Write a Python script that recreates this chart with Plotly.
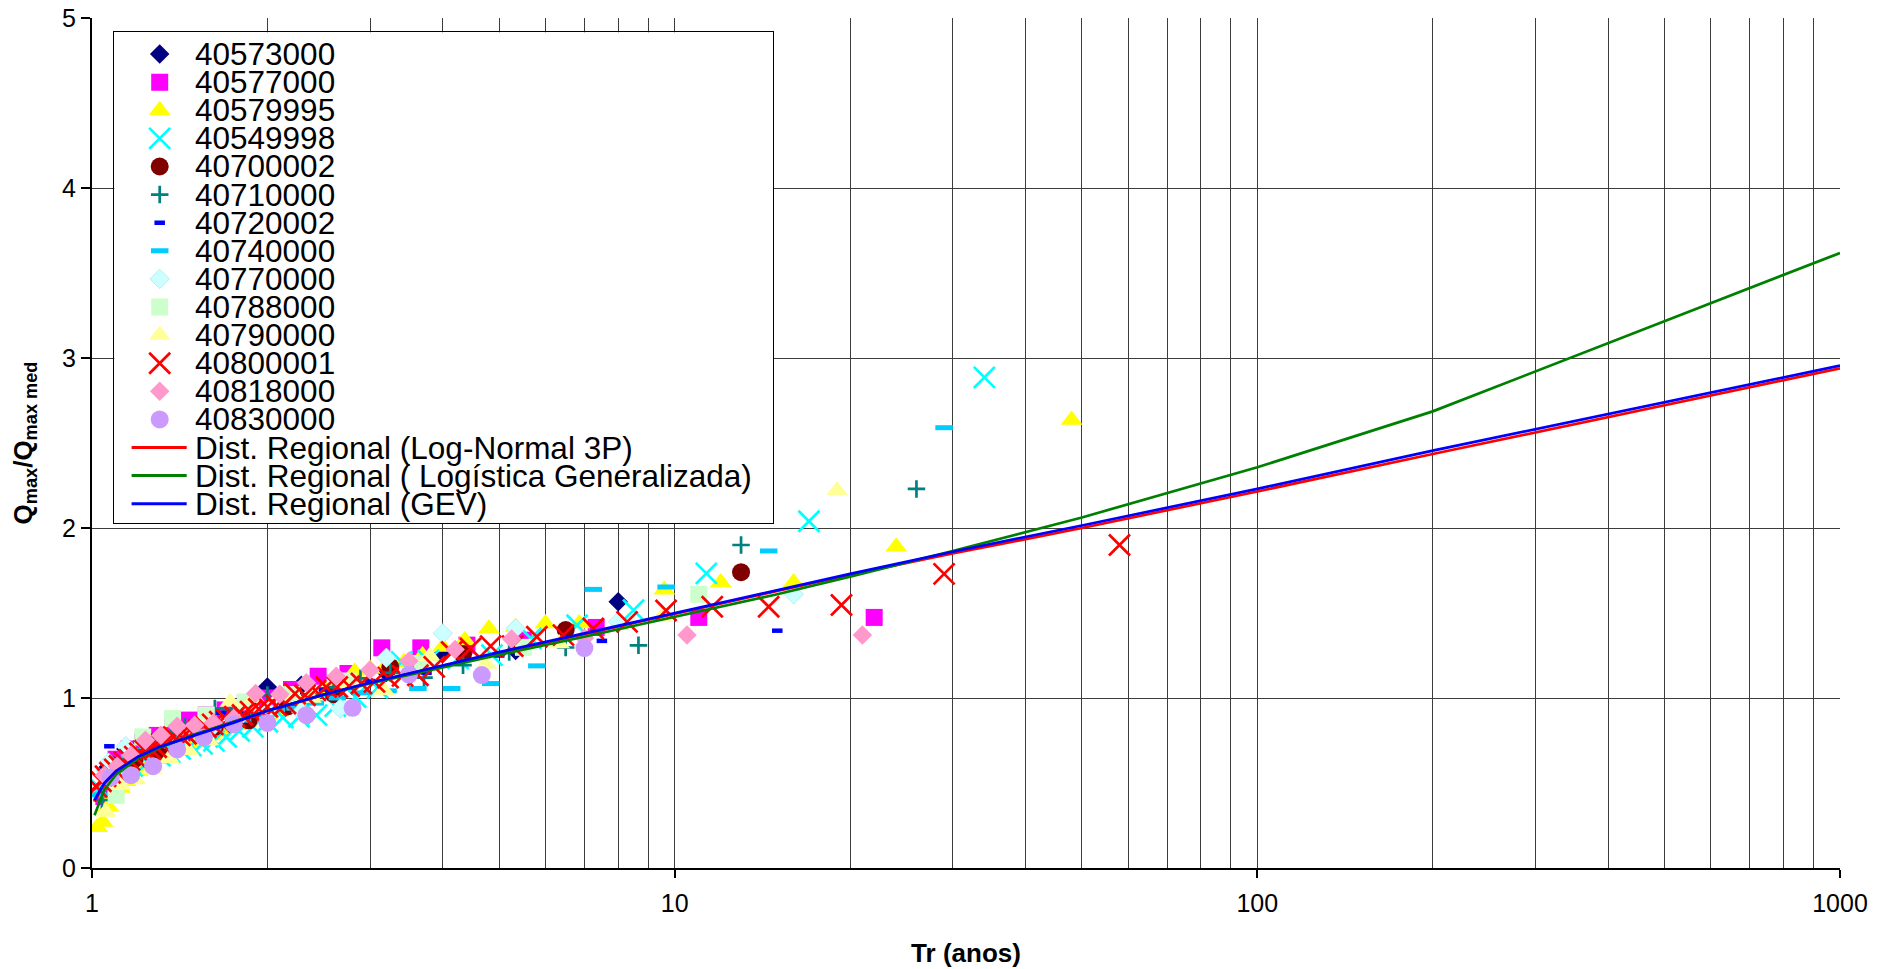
import plotly.graph_objects as go

FONT = "Liberation Sans, Arial, Helvetica, sans-serif"
GRID = "#3c3c3c"

# ---------------------------------------------------------------------------
# Observed annual maxima per gauging station:
# return period Tr (years) and dimensionless flood Qmax / Qmax med
# ---------------------------------------------------------------------------
tr_40573000 = [8.0, 5.333, 4.0, 3.2, 2.667, 2.286, 2.0, 1.778, 1.6, 1.455, 1.333, 1.231, 1.143, 1.067]
q_40573000 = [1.566, 1.28, 1.262, 1.15, 1.10, 1.075, 1.065, 0.90, 0.85, 0.79, 0.76, 0.73, 0.70, 0.594]

tr_40577000 = [22.0, 11.0, 7.333, 5.5, 4.4, 3.667, 3.143, 2.75, 2.444, 2.2, 2.0, 1.833, 1.692, 1.571,
               1.467, 1.375, 1.294, 1.222, 1.158, 1.1, 1.048]
q_40577000 = [1.474, 1.474, 1.415, 1.34, 1.311, 1.295, 1.295, 1.144, 1.128, 1.05, 1.00, 0.97, 0.93, 0.90,
              0.87, 0.83, 0.78, 0.74, 0.70, 0.64, 0.42]

tr_40579995 = [48.0, 24.0, 16.0, 12.0, 9.6, 8.0, 6.857, 6.0, 5.333, 4.8, 4.364, 4.0, 3.692, 3.429, 3.2,
               3.0, 2.824, 2.667, 2.526, 2.4, 2.286, 2.182, 2.087, 2.0, 1.92, 1.846, 1.778, 1.714, 1.655,
               1.6, 1.548, 1.5, 1.455, 1.412, 1.371, 1.333, 1.297, 1.263, 1.231, 1.2, 1.171, 1.143, 1.116,
               1.091, 1.067, 1.043, 1.021]
q_40579995 = [2.635, 1.89, 1.68, 1.68, 1.637, 1.428, 1.438, 1.438, 1.418, 1.409, 1.34, 1.30, 1.25, 1.21, 1.19,
              1.17, 1.154, 1.10, 1.04, 0.99, 0.96, 0.94, 0.92, 0.90, 0.88, 0.86, 0.84, 0.82, 0.80,
              0.78, 0.76, 0.74, 0.72, 0.70, 0.68, 0.66, 0.64, 0.62, 0.60, 0.57, 0.54, 0.51, 0.47,
              0.43, 0.36, 0.27, 0.24]

tr_40549998 = [34.0, 17.0, 11.333, 8.5, 6.8, 5.667, 4.857, 4.25, 3.778, 3.4, 3.091, 2.833, 2.615, 2.429,
               2.267, 2.125, 2.0, 1.889, 1.789, 1.7, 1.619, 1.545, 1.478, 1.417, 1.36, 1.308, 1.259, 1.214,
               1.172, 1.133, 1.097, 1.063, 1.03]
q_40549998 = [2.886, 2.04, 1.733, 1.517, 1.428, 1.35, 1.252, 1.232, 1.22, 1.212, 1.06, 1.006, 0.952, 0.899,
              0.89, 0.885, 0.86, 0.83, 0.806, 0.771, 0.748, 0.73, 0.72, 0.70, 0.68, 0.66, 0.64, 0.62,
              0.60, 0.58, 0.55, 0.52, 0.47]

tr_40700002 = [13.0, 6.5, 4.333, 3.25, 2.6, 2.167, 1.857, 1.625, 1.444, 1.3, 1.182, 1.083]
q_40700002 = [1.74, 1.40, 1.257, 1.183, 1.022, 0.95, 0.869, 0.83, 0.79, 0.683, 0.64, 0.604]

tr_40710000 = [26.0, 13.0, 8.667, 6.5, 5.2, 4.333, 3.714, 3.25, 2.889, 2.6, 2.364, 2.167, 2.0, 1.857,
               1.733, 1.625, 1.529, 1.444, 1.368, 1.3, 1.238, 1.182, 1.13, 1.083, 1.04]
q_40710000 = [2.23, 1.90, 1.31, 1.297, 1.27, 1.193, 1.12, 1.148, 1.115, 1.062, 1.02, 0.99, 1.017, 0.96,
              0.93, 0.938, 0.86, 0.83, 0.80, 0.77, 0.74, 0.70, 0.62, 0.47, 0.40]

tr_40720002 = [15.0, 7.5, 5.0, 3.75, 3.0, 2.5, 2.143, 1.875, 1.667, 1.5, 1.364, 1.25, 1.154, 1.071]
q_40720002 = [1.396, 1.336, 1.25, 1.148, 1.10, 1.05, 1.0, 0.96, 0.912, 0.83, 0.78, 0.73, 0.69, 0.716]

tr_40740000 = [29.0, 14.5, 9.667, 7.25, 5.8, 4.833, 4.143, 3.625, 3.222, 2.9, 2.636, 2.417, 2.231, 2.071,
               1.933, 1.813, 1.706, 1.611, 1.526, 1.45, 1.381, 1.318, 1.261, 1.208, 1.16, 1.115, 1.074, 1.036]
q_40740000 = [2.59, 1.865, 1.653, 1.639, 1.189, 1.085, 1.056, 1.056, 1.042, 1.03, 1.0, 0.97, 0.94, 0.93,
              0.90, 0.87, 0.85, 0.82, 0.80, 0.78, 0.76, 0.74, 0.71, 0.69, 0.66, 0.62, 0.55, 0.43]

tr_40770000 = [16.0, 8.0, 5.333, 4.0, 3.2, 2.667, 2.286, 2.0, 1.778, 1.6, 1.455, 1.333, 1.231, 1.143, 1.067]
q_40770000 = [1.61, 1.448, 1.409, 1.38, 1.237, 0.938, 0.918, 0.93, 0.88, 0.82, 0.78, 0.76, 0.74, 0.716, 0.62]

tr_40788000 = [11.0, 5.5, 3.667, 2.75, 2.2, 1.833, 1.571, 1.375, 1.222, 1.1]
q_40788000 = [1.61, 1.298, 1.203, 1.10, 1.02, 0.977, 0.90, 0.879, 0.771, 0.428]

tr_40790000 = [19.0, 9.5, 6.333, 4.75, 3.8, 3.167, 2.714, 2.375, 2.111, 1.9, 1.727, 1.583, 1.462, 1.357,
               1.267, 1.188, 1.118, 1.056]
q_40790000 = [2.22, 1.477, 1.32, 1.20, 1.246, 1.046, 1.08, 1.0, 1.02, 1.0, 0.977, 0.75, 0.693, 0.644,
              0.58, 0.52, 0.487, 0.33]

tr_40800001 = [58.0, 29.0, 19.333, 14.5, 11.6, 9.667, 8.286, 7.25, 6.444, 5.8, 5.273, 4.833, 4.462, 4.143,
               3.867, 3.625, 3.412, 3.222, 3.053, 2.9, 2.762, 2.636, 2.522, 2.417, 2.32, 2.231, 2.148,
               2.071, 2.0, 1.933, 1.871, 1.813, 1.758, 1.706, 1.657, 1.611, 1.568, 1.526, 1.487, 1.45,
               1.415, 1.381, 1.349, 1.318, 1.289, 1.261, 1.234, 1.208, 1.184, 1.16, 1.137, 1.115, 1.094,
               1.074, 1.055, 1.036, 1.018]
q_40800001 = [1.90, 1.73, 1.547, 1.537, 1.537, 1.515, 1.448, 1.409, 1.37, 1.36, 1.305, 1.305, 1.291, 1.271,
              1.183, 1.134, 1.13, 1.12, 1.095, 1.085, 1.07, 1.065, 1.065, 1.045, 1.016, 1.026, 0.968,
              0.955, 0.948, 0.935, 0.92, 0.90, 0.89, 0.87, 0.86, 0.845, 0.828, 0.81, 0.795, 0.79,
              0.78, 0.77, 0.755, 0.73, 0.71, 0.70, 0.69, 0.675, 0.655, 0.635, 0.62, 0.60, 0.58,
              0.56, 0.54, 0.51, 0.477]

tr_40818000 = [21.0, 10.5, 7.0, 5.25, 4.2, 3.5, 3.0, 2.625, 2.333, 2.1, 1.909, 1.75, 1.615, 1.5, 1.4,
               1.313, 1.235, 1.167, 1.105, 1.05]
q_40818000 = [1.37, 1.37, 1.353, 1.347, 1.285, 1.217, 1.164, 1.128, 1.089, 1.022, 1.026, 0.88, 0.853, 0.84,
              0.834, 0.781, 0.752, 0.663, 0.599, 0.546]

tr_40830000 = [7.0, 4.667, 3.5, 2.8, 2.333, 2.0, 1.75, 1.556, 1.4, 1.273, 1.167, 1.077]
q_40830000 = [1.294, 1.135, 1.138, 0.942, 0.899, 0.853, 0.846, 0.768, 0.697, 0.599, 0.546, 0.532]

# Regional frequency curves
tr_curve = [1.01, 1.05, 1.1, 1.2, 1.3, 1.5, 1.75, 2, 2.5, 3, 4, 5, 7, 10, 15, 20, 30, 50, 100, 200, 1000]
q_ln3 = [0.39, 0.495, 0.57, 0.655, 0.71, 0.785, 0.86, 0.925, 1.02, 1.09, 1.19, 1.265, 1.375, 1.495, 1.63,
         1.725, 1.85, 2.0, 2.215, 2.435, 2.939]
q_glo = [0.31, 0.46, 0.55, 0.645, 0.705, 0.785, 0.86, 0.925, 1.02, 1.085, 1.18, 1.255, 1.36, 1.478, 1.61,
         1.714, 1.865, 2.062, 2.357, 2.686, 3.618]
q_gev = [0.40, 0.50, 0.57, 0.655, 0.71, 0.78, 0.855, 0.925, 1.02, 1.09, 1.19, 1.27, 1.38, 1.50, 1.635,
         1.73, 1.86, 2.015, 2.23, 2.455, 2.955]

x_tickvals = [1, 10, 100, 1000]
x_ticktext = ["1", "10", "100", "1000"]
x_minorvals = [2, 3, 4, 5, 6, 7, 8, 9, 20, 30, 40, 50, 60, 70, 80, 90,
               200, 300, 400, 500, 600, 700, 800, 900]

stations = [
    ("40573000", tr_40573000, q_40573000),
    ("40577000", tr_40577000, q_40577000),
    ("40579995", tr_40579995, q_40579995),
    ("40549998", tr_40549998, q_40549998),
    ("40700002", tr_40700002, q_40700002),
    ("40710000", tr_40710000, q_40710000),
    ("40720002", tr_40720002, q_40720002),
    ("40740000", tr_40740000, q_40740000),
    ("40770000", tr_40770000, q_40770000),
    ("40788000", tr_40788000, q_40788000),
    ("40790000", tr_40790000, q_40790000),
    ("40800001", tr_40800001, q_40800001),
    ("40818000", tr_40818000, q_40818000),
    ("40830000", tr_40830000, q_40830000),
]

curves = [
    ("Dist. Regional (Log-Normal 3P)", q_ln3, "#FF0000"),
    ("Dist. Regional ( Logística Generalizada)", q_glo, "#008000"),
    ("Dist. Regional (GEV)", q_gev, "#0000FF"),
]

# marker look of every station
STYLE = {
    "40573000": dict(symbol="diamond", color="#000080", size=15, lw=0, lc="#000080"),
    "40577000": dict(symbol="square", color="#FF00FF", size=17, lw=0, lc="#FF00FF"),
    "40579995": dict(symbol="triangle-up", color="#FFFF00", size=19, lw=0, lc="#FFFF00"),
    "40549998": dict(symbol="x-thin", color="#00FFFF", size=21, lw=2.7, lc="#00FFFF"),
    "40700002": dict(symbol="circle", color="#800000", size=18, lw=0, lc="#800000"),
    "40710000": dict(symbol="cross-thin", color="#008080", size=12.5, lw=2.7, lc="#008080"),
    "40720002": dict(symbol="line-ew", color="#0000FF", size=7.5, lw=4.5, lc="#0000FF"),
    "40740000": dict(symbol="line-ew", color="#00CCFF", size=12.5, lw=5, lc="#00CCFF"),
    "40770000": dict(symbol="diamond", color="#CCFFFF", size=15, lw=0.8, lc="#A8E8F0"),
    "40788000": dict(symbol="square", color="#CCFFCC", size=17, lw=0, lc="#CCFFCC"),
    "40790000": dict(symbol="triangle-up", color="#FFFF99", size=19, lw=0, lc="#FFFF99"),
    "40800001": dict(symbol="x-thin", color="#FF0000", size=21, lw=2.7, lc="#FF0000"),
    "40818000": dict(symbol="diamond", color="#FF99CC", size=15, lw=0, lc="#FF99CC"),
    "40830000": dict(symbol="circle", color="#CC99FF", size=18, lw=0, lc="#CC99FF"),
}

W, H = 1892, 969
ML, MR, MT, MB = 92, 52, 18, 101
PW, PH = W - ML - MR, H - MT - MB

fig = go.Figure()

for code, tr, q in stations:
    st = STYLE[code]
    fig.add_trace(go.Scatter(
        x=tr, y=q, mode="markers", name=code, showlegend=False,
        marker=dict(symbol=st["symbol"], size=st["size"], color=st["color"], opacity=1,
                    line=dict(width=st["lw"], color=st["lc"])),
        xaxis="x", yaxis="y"))

for name, vals, color in curves:
    fig.add_trace(go.Scatter(
        x=tr_curve, y=vals, mode="lines", name=name, showlegend=False,
        line=dict(color=color, width=2.7), xaxis="x", yaxis="y"))

# ---- boxed key drawn on its own pixel-scaled axes ----
BOX_L, BOX_R, BOX_T, BOX_B = 114.3, 773.3, 32.3, 523.3
ROW0, ROW_STEP = 54.1, 28.1
SYM_X, TXT_X = 159.7, 194.0
LINE_X = [131.6, 186.7]

n_items = len(stations) + len(curves)
row_y = [ROW0 + ROW_STEP * i for i in range(n_items)]

fig.add_trace(go.Scatter(
    x=[SYM_X] * len(stations), y=row_y[:len(stations)], mode="markers",
    showlegend=False, hoverinfo="skip",
    marker=dict(symbol=[STYLE[c]["symbol"] for c, _, _ in stations],
                size=[STYLE[c]["size"] for c, _, _ in stations],
                color=[STYLE[c]["color"] for c, _, _ in stations],
                opacity=1,
                line=dict(width=[STYLE[c]["lw"] for c, _, _ in stations],
                          color=[STYLE[c]["lc"] for c, _, _ in stations])),
    xaxis="x2", yaxis="y2"))

for i, (name, _, color) in enumerate(curves):
    yy = row_y[len(stations) + i]
    fig.add_trace(go.Scatter(
        x=LINE_X, y=[yy, yy], mode="lines", showlegend=False, hoverinfo="skip",
        line=dict(color=color, width=3), xaxis="x2", yaxis="y2"))

labels = [c for c, _, _ in stations] + [n for n, _, _ in curves]
annotations = []
for lbl, yy in zip(labels, row_y):
    annotations.append(dict(
        x=TXT_X, y=yy, xref="x2", yref="y2", text=lbl, showarrow=False,
        xanchor="left", yanchor="middle", borderpad=0,
        font=dict(family=FONT, size=31.5, color="black")))

fig.update_layout(
    width=W, height=H,
    margin=dict(l=ML, r=MR, t=MT, b=MB, pad=0, autoexpand=False),
    paper_bgcolor="white", plot_bgcolor="white",
    font=dict(family=FONT, color="black"),
    showlegend=False,
    annotations=annotations,
    xaxis=dict(
        type="log", range=[0, 3], domain=[0, 1], anchor="y", automargin=False,
        tickmode="array", tickvals=x_tickvals, ticktext=x_ticktext,
        ticks="outside", ticklen=8, tickwidth=1.5, tickcolor="black",
        ticklabelstandoff=4,
        tickfont=dict(family=FONT, size=25, color="black"),
        showline=True, linecolor="black", linewidth=2,
        showgrid=True, gridcolor=GRID, gridwidth=1, zeroline=False,
        minor=dict(tickmode="array", tickvals=x_minorvals, showgrid=True,
                   gridcolor=GRID, gridwidth=1, ticks=""),
        title=dict(text="<b>Tr (anos)</b>", font=dict(family=FONT, size=26, color="black"),
                   standoff=28),
    ),
    yaxis=dict(
        range=[0, 5], domain=[0, 1], anchor="x", automargin=False,
        tickmode="linear", tick0=0, dtick=1,
        ticks="outside", ticklen=9, tickwidth=1.5, tickcolor="black",
        tickfont=dict(family=FONT, size=25, color="black"),
        showline=True, linecolor="black", linewidth=2,
        showgrid=True, gridcolor=GRID, gridwidth=1, zeroline=False,
        title=dict(text="<b>Q<sub>max</sub>/Q<sub>max med</sub></b>",
                   font=dict(family=FONT, size=26, color="black"), standoff=22),
    ),
    xaxis2=dict(
        domain=[(BOX_L - ML) / PW, (BOX_R - ML) / PW], anchor="y2", automargin=False,
        range=[BOX_L, BOX_R], showgrid=False, zeroline=False, showticklabels=False,
        ticks="", showline=True, mirror=True, linecolor="black", linewidth=1,
        fixedrange=True,
    ),
    yaxis2=dict(
        domain=[(H - MB - BOX_B) / PH, (H - MB - BOX_T) / PH], anchor="x2", automargin=False,
        range=[BOX_B, BOX_T], showgrid=False, zeroline=False, showticklabels=False,
        ticks="", showline=True, mirror=True, linecolor="black", linewidth=1,
        fixedrange=True,
    ),
)

fig.write_html("out.html")
